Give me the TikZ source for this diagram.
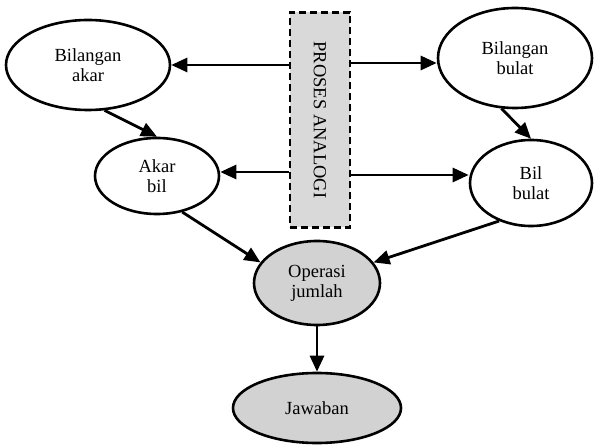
\documentclass[tikz,border=0pt]{standalone}
\usepackage{fontspec}
\setmainfont{Liberation Serif}
\usetikzlibrary{shapes.geometric,arrows.meta}
\begin{document}
\begin{tikzpicture}[x=1pt,y=-1pt,
  every node/.style={font=\fontsize{18.5}{20}\selectfont, align=center},
  oval/.style={ellipse, draw, line width=2.6pt, inner sep=0pt},
  shaded/.style={oval, fill=gray!35},
  procbox/.style={draw, line width=2.4pt, fill=gray!30, dash pattern=on 7pt off 4pt},
  link/.style={line width=2.8pt, -{Triangle[length=16pt,width=14pt]}}
]
\useasboundingbox (0,0) rectangle (594,446);

% concept ellipses
\node[oval, minimum width=164pt, minimum height=90pt] (ba) at (88,65) {Bilangan\\akar};
\node[oval, minimum width=154pt, minimum height=100pt] (bb) at (515,58) {Bilangan\\bulat};
\node[oval, minimum width=124pt, minimum height=76pt] (ab) at (157,176) {Akar\\bil};
\node[oval, minimum width=122pt, minimum height=86pt] (bl) at (531,183) {Bil\\bulat};
\node[shaded, minimum width=126pt, minimum height=84pt] (op) at (317,283) {Operasi\\jumlah};
\node[shaded, minimum width=168pt, minimum height=70pt] (jw) at (317,408) {Jawaban};

% central analogy process box
\node[procbox, minimum width=60pt, minimum height=215pt, inner sep=0pt] (pa) at (320,120) {};
\node[rotate=-90] (pt) at (pa.center) {PROSES ANALOGI};

% links from the process box
\coordinate (pl1) at (pa.west |- ba.east);
\coordinate (pr1) at (pa.east |- 0,63);
\coordinate (pl2) at (pa.west |- 0,172);
\coordinate (pr2) at (pa.east |- 0,175);
\draw[link] (pl1) -- (ba.east);
\draw[link] (pr1) -- (bb.west |- pr1);
\draw[link] (pl2) -- (ab.east |- pl2);
\draw[link] (pr2) -- (bl.west |- pr2);

% downward flow
\draw[link] (ba.-70) -- (ab.north);
\draw[link] (bb.-105) -- (bl.north);
\draw[link] (ab.-55) -- (op.160);
\draw[link] (bl.-130) -- (op.20);
\draw[link] (op.south) -- (jw.north);
\end{tikzpicture}
\end{document}
